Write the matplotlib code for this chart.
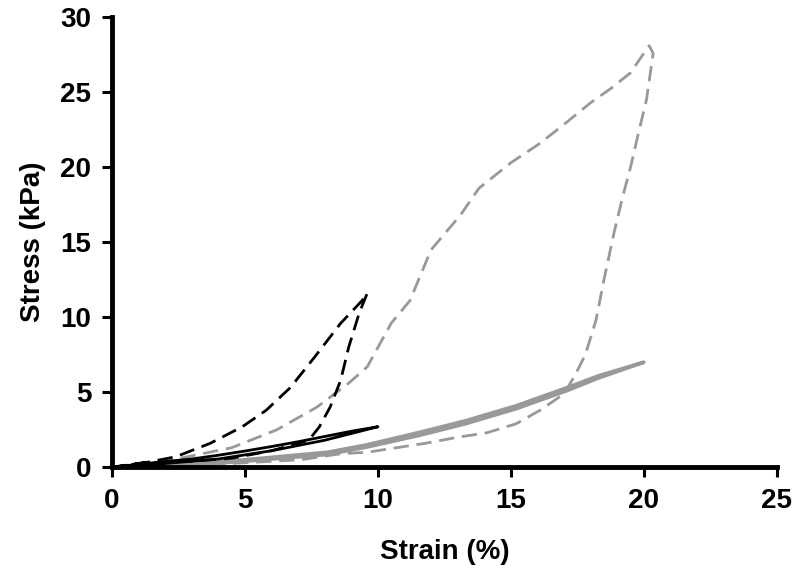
import numpy as np
import matplotlib.pyplot as plt

plt.rcParams['font.family'] = ['Liberation Sans', 'DejaVu Sans']
plt.rcParams['font.weight'] = 'bold'

# black dashed loop (loading then unloading)
bd_strain = [0, 1.4, 2.4, 3.7, 4.9, 5.8, 6.7, 7.6, 8.6, 9.4, 9.6,
             9.3, 8.9, 8.6, 8.2, 7.8, 7.4, 6.0, 4.5, 3.0, 1.2, 0]
bd_stress = [0, 0.35, 0.7, 1.6, 2.7, 3.8, 5.3, 7.3, 9.6, 11.1, 11.6,
             10.3, 8.0, 5.8, 4.0, 2.7, 1.8, 1.1, 0.6, 0.4, 0.3, 0]

# black solid loop
bs_strain = [0, 2, 4, 6, 8, 10, 9, 8, 7, 6, 5, 4, 3, 2, 1, 0]
bs_stress = [0, 0.25, 0.55, 1.1, 1.8, 2.7, 2.4, 2.05, 1.7, 1.38, 1.08, 0.8, 0.55, 0.38, 0.2, 0]

# grey dashed loop
gd_strain = [0, 2.0, 4.5, 6.2, 7.7, 8.9, 9.6, 10.5, 11.2, 12.0, 13.1, 13.8,
             15.0, 16.1, 17.1, 18.0, 18.8, 19.5, 20.0, 20.2,
             20.35, 20.1, 19.8, 19.5, 19.2, 18.9, 18.5, 18.2, 17.8, 17.4, 17.0,
             16.1, 15.2, 14.1, 13.0, 11.8, 10.7, 9.6, 8.6, 7.1, 5.0, 3.3, 0]
gd_stress = [0, 0.4, 1.3, 2.5, 4.0, 5.6, 6.7, 9.6, 11.1, 14.5, 16.8, 18.6,
             20.3, 21.6, 23.0, 24.3, 25.3, 26.3, 27.6, 28.1,
             27.6, 24.5, 22.3, 20.0, 18.0, 15.8, 12.5, 9.8, 7.5, 6.1, 4.9,
             3.8, 2.9, 2.3, 2.0, 1.6, 1.3, 1.0, 0.9, 0.5, 0.3, 0.15, 0]

# grey solid loop
gs_strain = [0, 3, 5, 8.1, 9.6, 11.5, 13.3, 15.2, 17.1, 18.3, 20.0,
             18.3, 17.1, 15.2, 13.3, 11.5, 9.6, 8.1, 5, 3, 0]
gs_stress = [0, 0.2, 0.5, 1.0, 1.5, 2.3, 3.1, 4.1, 5.3, 6.1, 7.0,
             5.95, 5.1, 3.9, 2.9, 2.1, 1.35, 0.85, 0.4, 0.15, 0]

fig = plt.figure(figsize=(8, 5.74), dpi=100)
ax = fig.add_axes([0.14, 0.186, 0.831, 0.784])

grey = '#999999'
dash = (5.5, 2.8)
ax.plot(gs_strain, gs_stress, color=grey, lw=2.6, solid_joinstyle='round')
ax.plot(gd_strain, gd_stress, color=grey, lw=2.0, dashes=dash)
ax.plot(bs_strain, bs_stress, color='black', lw=2.0)
ax.plot(bd_strain, bd_stress, color='black', lw=2.0, dashes=dash)

ax.set_xlim(0, 25)
ax.set_ylim(0, 30)
ax.set_xticks(np.arange(0, 26, 5))
ax.set_yticks(np.arange(0, 31, 5))
for s in ['top', 'right']:
    ax.spines[s].set_visible(False)
for s in ['left', 'bottom']:
    ax.spines[s].set_linewidth(3.5)
ax.tick_params(direction='out', length=7, width=2.2, labelsize=20, pad=8)
ax.set_xlabel('Strain (%)', fontsize=20, fontweight='bold', labelpad=18)
ax.set_ylabel('Stress (kPa)', fontsize=20, fontweight='bold', labelpad=10)
for lab in ax.get_xticklabels() + ax.get_yticklabels():
    lab.set_fontweight('bold')

fig.savefig('out.png', dpi=100)
